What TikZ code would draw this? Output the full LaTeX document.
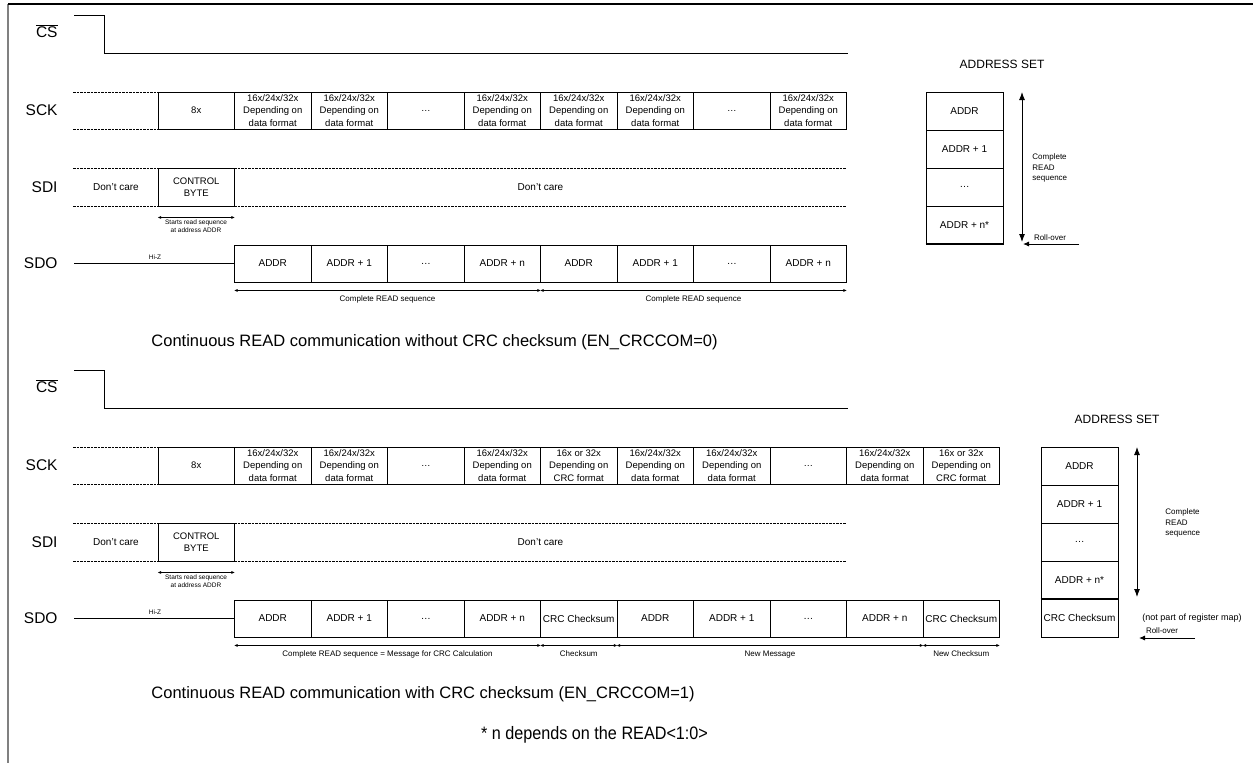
\documentclass[tikz,border=0pt]{standalone}
\usepackage{fontspec}
\setmainfont{Liberation Sans}
\usetikzlibrary{arrows.meta}

\newcommand{\datafmt}{16x/24x/32x\\Depending on\\data format}
\newcommand{\crcfmt}{16x or 32x\\Depending on\\CRC format}

\begin{document}
\begin{tikzpicture}[x=1pt,y=-1pt,line width=0.9pt,
  sig/.style={anchor=east,inner sep=0pt,font=\fontsize{15.5}{18}\selectfont},
  cell/.style={draw,minimum width=76.5pt,minimum height=37pt,inner sep=0pt,align=center,font=\fontsize{9.5}{12.5}\selectfont},
  datacell/.style={cell,font=\fontsize{10}{12}\selectfont},
  regcell/.style={draw,minimum width=77pt,minimum height=38pt,inner sep=0pt,align=center,font=\fontsize{10}{12}\selectfont},
  dontcare/.style={dash pattern=on 2.5pt off 1pt,line width=0.8pt},
  small/.style={inner sep=0pt,align=center,font=\fontsize{6.5}{8}\selectfont},
  note/.style={inner sep=0pt,align=center,font=\fontsize{8}{10.5}\selectfont},
  span/.style={<->,>={Latex[length=3.5pt,width=3pt]},line width=0.8pt},
  bigspan/.style={<->,>={Latex[length=8pt,width=6pt]}},
  rollin/.style={->,>={Latex[length=6pt,width=5pt]}},
  title/.style={inner sep=0pt,font=\fontsize{12}{14}\selectfont},
  caption/.style={anchor=west,inner sep=0pt,font=\fontsize{16.5}{19}\selectfont}
]
  \useasboundingbox (0,0) rectangle (1253,763);

  % cornice
  \draw[line width=2pt,gray] (8,4) -- (8,763);
  \draw[line width=1.5pt] (8,4) -- (1253,4);

  % ---- lettura senza CRC ----
  % CS
  \node[sig] (tcs) at (58,31) {$\overline{\mbox{CS}}$};
  \draw (74,15) -- (104,15) -- (104,53) -- (848,53);

  % SCK
  \node[sig] (tsck) at (58,110.5) {SCK};
  \draw[dontcare] (73,92) -- (158,92) (73,129) -- (158,129);
  \foreach \t [count=\i] in {8x,\datafmt,\datafmt,\ldots,\datafmt,\datafmt,\datafmt,\ldots,\datafmt}
    \node[cell] (tk\i) at ({158+76.5*(\i-0.5)},110.5) {\t};

  % SDI
  \node[sig] (tsdi) at (58,187) {SDI};
  \draw[dontcare] (73,168) -- (846.5,168) (73,206) -- (846.5,206);
  \node[datacell,draw=none] (tdc1) at (116,187) {Don't care};
  \node[datacell,draw=none] (tdc2) at (540.5,187) {Don't care};
  \node[cell,minimum height=38pt] (tcb) at (196.25,187) {CONTROL\\BYTE};
  \draw[span] ([yshift=-11pt]tcb.south west) -- ([yshift=-11pt]tcb.south east);
  \node[small] (tstart) at (196,226) {Starts read sequence\\at address ADDR};

  % SDO
  \node[sig] (tsdo) at (58,263.5) {SDO};
  \foreach \t [count=\i] in {ADDR,ADDR + 1,\ldots,ADDR + n,ADDR,ADDR + 1,\ldots,ADDR + n}
    \node[datacell] (to\i) at ({234.5+76.5*(\i-0.5)},263.5) {\t};
  \draw (74,263.5) -- (to1.west);
  \node[small] (thiz) at (155,257) {Hi-Z};
  \draw[span] ([yshift=-8pt]to1.south west) -- ([yshift=-8pt]to4.south east)
    node[note,midway,below=5pt] {Complete READ sequence};
  \draw[span] ([yshift=-8pt]to5.south west) -- ([yshift=-8pt]to8.south east)
    node[note,midway,below=5pt] {Complete READ sequence};

  \node[caption] (tcap) at (151,342) {Continuous READ communication without CRC checksum (EN\_CRCCOM=0)};

  % indirizzi
  \node[title] (tset) at (1002,64) {ADDRESS SET};
  \foreach \t [count=\i] in {ADDR,ADDR + 1,\ldots,ADDR + n*}
    \node[regcell] (tr\i) at (964.5,{73+38*\i}) {\t};
  \draw[line width=2pt] (tr4.south west) -- (tr4.south east);
  \coordinate (tup) at (1022,92);
  \coordinate (tdown) at (1022,242);
  \draw[bigspan] (tup) -- (tdown);
  \node[note,anchor=west,align=left] (tseq) at (1032,168) {Complete\\READ\\sequence};
  \coordinate (troll) at (1079,244);
  \coordinate (tback) at (1023,244);
  \draw[rollin] (troll) -- (tback);
  \node[note] (trolltxt) at (1050,238) {Roll-over};

  % ---- lettura con CRC ----
  \begin{scope}[shift={(0,355)}]
  % CS
  \node[sig] (bcs) at (58,31) {$\overline{\mbox{CS}}$};
  \draw (74,15) -- (104,15) -- (104,53) -- (848,53);

  % SCK
  \node[sig] (bsck) at (58,110.5) {SCK};
  \draw[dontcare] (73,92) -- (158,92) (73,129) -- (158,129);
  \foreach \t [count=\i] in {8x,\datafmt,\datafmt,\ldots,\datafmt,\crcfmt,\datafmt,\datafmt,\ldots,\datafmt,\crcfmt}
    \node[cell] (bk\i) at ({158+76.5*(\i-0.5)},110.5) {\t};

  % SDI
  \node[sig] (bsdi) at (58,187) {SDI};
  \draw[dontcare] (73,168) -- (846.5,168) (73,206) -- (846.5,206);
  \node[datacell,draw=none] (bdc1) at (116,187) {Don't care};
  \node[datacell,draw=none] (bdc2) at (540.5,187) {Don't care};
  \node[cell,minimum height=38pt] (bcb) at (196.25,187) {CONTROL\\BYTE};
  \draw[span] ([yshift=-11pt]bcb.south west) -- ([yshift=-11pt]bcb.south east);
  \node[small] (bstart) at (196,226) {Starts read sequence\\at address ADDR};

  % SDO
  \node[sig] (bsdo) at (58,263.5) {SDO};
  \foreach \t [count=\i] in {ADDR,ADDR + 1,\ldots,ADDR + n,CRC Checksum,ADDR,ADDR + 1,\ldots,ADDR + n,CRC Checksum}
    \node[datacell] (bo\i) at ({234.5+76.5*(\i-0.5)},263.5) {\t};
  \draw (74,263.5) -- (bo1.west);
  \node[small] (bhiz) at (155,257) {Hi-Z};
  \draw[span] ([yshift=-8pt]bo1.south west) -- ([yshift=-8pt]bo4.south east)
    node[note,midway,below=5pt] {Complete READ sequence = Message for CRC Calculation};
  \draw[span] ([yshift=-8pt]bo5.south west) -- ([yshift=-8pt]bo5.south east)
    node[note,midway,below=5pt] {Checksum};
  \draw[span] ([yshift=-8pt]bo6.south west) -- ([yshift=-8pt]bo9.south east)
    node[note,midway,below=5pt] {New Message};
  \draw[span] ([yshift=-8pt]bo10.south west) -- ([yshift=-8pt]bo10.south east)
    node[note,midway,below=5pt] {New Checksum};
  \end{scope}

  \node[caption] (bcap) at (151,694) {Continuous READ communication with CRC checksum (EN\_CRCCOM=1)};

  % indirizzi con CRC
  \node[title] (bset) at (1117,419) {ADDRESS SET};
  \foreach \t [count=\i] in {ADDR,ADDR + 1,\ldots,ADDR + n*,CRC Checksum}
    \node[regcell] (br\i) at (1079.5,{428+38*\i}) {\t};
  \draw[line width=2pt] (br4.south west) -- (br4.south east);
  \coordinate (bup) at (1137,447);
  \coordinate (bdown) at (1137,597);
  \draw[bigspan] (bup) -- (bdown);
  \node[note,anchor=west,align=left] (bseq) at (1165,523) {Complete\\READ\\sequence};
  \node[note,font=\fontsize{9}{11}\selectfont] (bnot) at (1192,618) {(not part of register map)};
  \coordinate (broll) at (1195,638);
  \coordinate (bback) at (1139,638);
  \draw[rollin] (broll) -- (bback);
  \node[note] (brolltxt) at (1162,631) {Roll-over};

  % nota
  \node[inner sep=0pt,xscale=0.9,font=\fontsize{18}{21}\selectfont] (foot) at (594.5,735) {* n depends on the READ<1:0>};
\end{tikzpicture}
\end{document}
